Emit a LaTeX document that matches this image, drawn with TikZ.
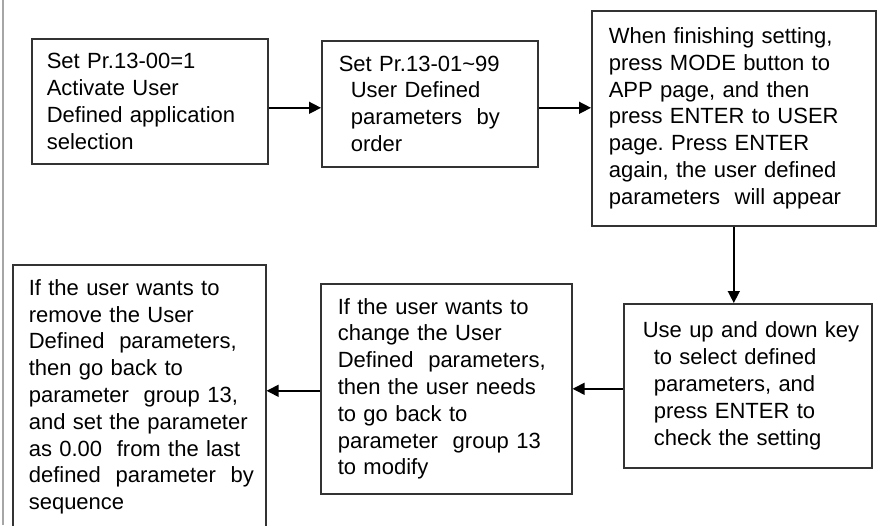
\documentclass[tikz,border=0pt]{standalone}
\usepackage{fontspec}
\setmainfont{Liberation Sans}
\usetikzlibrary{arrows.meta,calc,positioning}
\definecolor{boxgray}{rgb}{0.2,0.2,0.2}

\begin{document}
\frenchspacing
\begin{tikzpicture}[x=0.5pt,y=-0.5pt,
        stepbox/.style={draw=boxgray, line width=0.8pt, anchor=north west, align=left,
            inner ysep=0pt, font=\fontsize{11}{13.4}\selectfont},
        flow/.style={-{Triangle[length=6pt,width=6pt]}, line width=0.75pt}]
                \useasboundingbox (0,0) rectangle (877,525);
                \clip (0,0) rectangle (877,525);
                \draw[gray!70, line width=1pt] (3,0) -- (3,525);
                % top row
                \node[stepbox, minimum width=118pt, minimum height=62.5pt, text width=103pt, inner xsep=7.5pt]
                    (activate) at (31,38) {Set Pr.13-00=1\\Activate User\\Defined application\\selection};
                \node[stepbox, minimum width=108pt, minimum height=63pt, text width=91pt, inner xsep=8.5pt]
                    (order) at (321,40) {Set Pr.13-01\textasciitilde99\\\hspace*{6pt}User Defined\\\hspace*{6pt}parameters\ \ by\\\hspace*{6pt}order};
                \node[stepbox, minimum width=142pt, minimum height=107.5pt, text width=125pt, inner xsep=8.5pt]
                    (finish) at (591,10) {When finishing setting,\\press MODE button to\\APP page, and then\\press ENTER to USER\\page. Press ENTER\\again, the user defined\\parameters\ \ will appear};
                % bottom row
                \node[stepbox, minimum width=124pt, minimum height=82pt, text width=105pt, inner xsep=9.5pt]
                    (select) at (623,303) {\mbox{Use up and down key}\\\hspace*{5.5pt}to select defined\\\hspace*{5.5pt}parameters, and\\\hspace*{5.5pt}press ENTER to\\\hspace*{5.5pt}check the setting};
                \node[stepbox, minimum width=125.5pt, minimum height=105pt, text width=108.5pt, inner xsep=8.5pt]
                    (change) at (320,283) {If the user wants to\\change the User\\Defined\ \ parameters,\\then the user needs\\to go back to\\parameter\ \ group 13\\to modify};
                \node[stepbox, minimum width=126.5pt, minimum height=132pt, text width=110.5pt, inner xsep=8pt]
                    (remove) at (12,264) {If the user wants to\\remove the User\\Defined\ \ parameters,\\then go back to\\parameter\ \ group 13,\\\mbox{and set the parameter}\\\mbox{as 0.00\ \ from the last}\\\mbox{defined\ \ parameter\ \ by}\\sequence};
                % connectors
                \coordinate (c1) at ([yshift=-3.25pt]activate.east);
                \coordinate (c2) at ([yshift=-2pt]order.east);
                \coordinate (c4) at ([yshift=-1.5pt]select.west);
                \coordinate (c5) at ([yshift=-1pt]change.west);
                \draw[flow] (c1) -- (c1 -| order.west);
                \draw[flow] (c2) -- (c2 -| finish.west);
                \draw[flow] (finish.south) -- (finish.south |- select.north);
                \draw[flow] (c4) -- (c4 -| change.east);
                \draw[flow] (c5) -- (c5 -| remove.east);
            \end{tikzpicture}
\end{document}
